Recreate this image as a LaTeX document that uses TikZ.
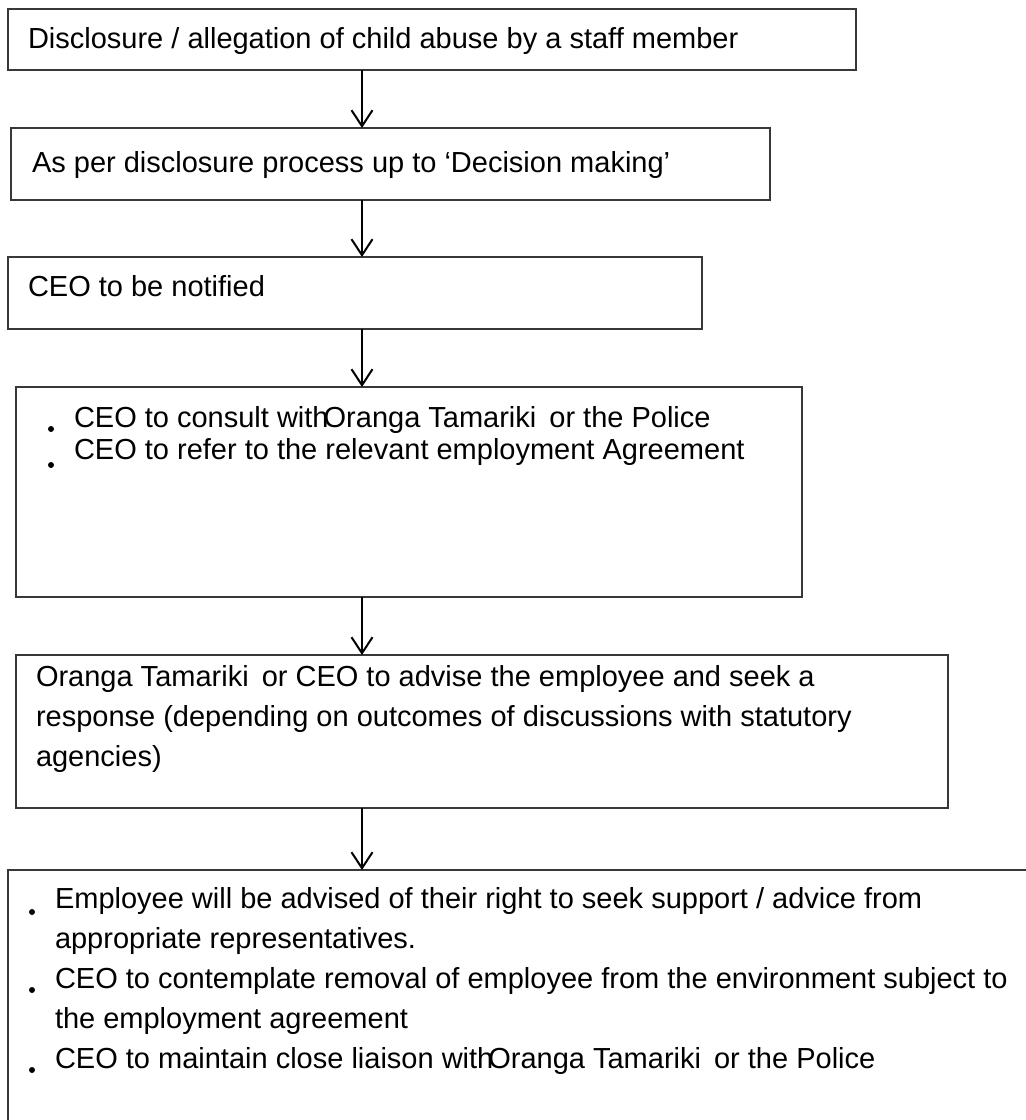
\documentclass[tikz,border=0pt]{standalone}
\usepackage{fontspec}
\setmainfont{Liberation Sans}
\usetikzlibrary{arrows.meta}
\begin{document}
\begin{tikzpicture}[x=1pt,y=-1pt,
  box/.style={draw=black!78,line width=1.5pt,inner sep=0pt,outer sep=0pt,anchor=north west},
  txt/.style={anchor=base west,inner sep=0pt,outer sep=0pt,font=\fontsize{29}{40}\selectfont},
  bul/.style={circle,fill=black,inner sep=0pt,minimum size=6pt},
  arr/.style={line width=2pt,-{Straight Barb[length=16pt,width=21pt,line width=2pt]}}]
\useasboundingbox (0,0) rectangle (1026,1120);
\clip (0,0) rectangle (1026,1120);
% boxes
\node[box,minimum width=848pt,minimum height=61pt] (b1) at (8,9) {};
\node[box,minimum width=759pt,minimum height=72pt] (b2) at (11,128) {};
\node[box,minimum width=694pt,minimum height=72pt] (b3) at (8,257) {};
\node[box,minimum width=786pt,minimum height=210pt] (b4) at (16,387) {};
\node[box,minimum width=932pt,minimum height=153pt] (b5) at (16,655) {};
\node[box,minimum width=1040pt,minimum height=280pt] (b6) at (8,870) {};
% texts
\node[txt] (t1) at (28,48) {Disclosure / allegation of child abuse by a staff member};
\node[txt] (t2) at (32,172) {As per disclosure process up to ‘Decision making’};
\node[txt] (t3) at (28,296) {CEO to be notified};
\node[txt] (t4a) at (74,427) {CEO to consult with\kern-5pt Oranga Tamariki\hspace{5pt} or the Police};
\node[txt] (t4b) at (74,459) {CEO to refer to the relevant employment Agreement};
\node[bul] (d4a) at (51,429) {};
\node[bul] (d4b) at (51,465) {};
\node[txt] (t5a) at (36,686) {Oranga Tamariki\hspace{5pt} or CEO to advise the employee and seek a};
\node[txt] (t5b) at (36,726) {response (depending on outcomes of discussions with statutory};
\node[txt] (t5c) at (36,766) {agencies)};
\node[txt] (t6a) at (55,908) {Employee will be advised of their right to seek support / advice from};
\node[txt] (t6b) at (55,948) {appropriate representatives.};
\node[txt] (t6c) at (55,988) {CEO to contemplate removal of employee from the environment subject to};
\node[txt] (t6d) at (55,1028) {the employment agreement};
\node[txt] (t6e) at (55,1068) {CEO to maintain close liaison with\kern-5pt Oranga Tamariki\hspace{5pt} or the Police};
\node[bul] (d6a) at (32,912) {};
\node[bul] (d6b) at (32,990) {};
\node[bul] (d6c) at (32,1070) {};
% arrows
\coordinate (ax) at (362,0);
\draw[arr] (b1.south -| ax) -- (b2.north -| ax);
\draw[arr] (b2.south -| ax) -- (b3.north -| ax);
\draw[arr] (b3.south -| ax) -- (b4.north -| ax);
\draw[arr] (b4.south -| ax) -- (b5.north -| ax);
\draw[arr] (b5.south -| ax) -- (b6.north -| ax);
\end{tikzpicture}
\end{document}
